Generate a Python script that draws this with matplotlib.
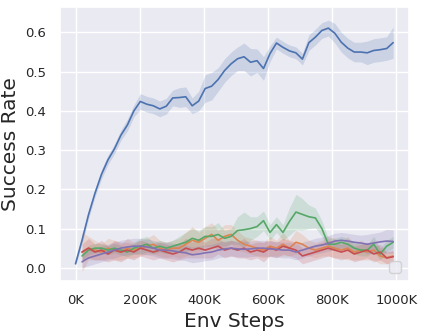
import numpy as np
import matplotlib
matplotlib.use("Agg")
import matplotlib.pyplot as plt
import seaborn as sns

# env steps (K), shared grid
steps = np.linspace(0, 990, 50)
nan = np.nan

blue_mean = [0.01, 0.07, 0.135, 0.19, 0.238, 0.275, 0.303, 0.338, 0.364, 0.40,
             0.424, 0.417, 0.413, 0.405, 0.412, 0.433, 0.434, 0.436, 0.413, 0.425,
             0.457, 0.463, 0.48, 0.503, 0.52, 0.533, 0.538, 0.524, 0.528, 0.508,
             0.546, 0.573, 0.562, 0.553, 0.548, 0.532, 0.574, 0.588, 0.605, 0.611,
             0.598, 0.575, 0.56, 0.55, 0.55, 0.548, 0.554, 0.556, 0.559, 0.574]
blue_err = [0.005, 0.01, 0.01, 0.01, 0.012, 0.012, 0.012, 0.013, 0.015, 0.015,
            0.02, 0.02, 0.02, 0.02, 0.02, 0.02, 0.025, 0.025, 0.02, 0.025,
            0.035, 0.035, 0.03, 0.03, 0.03, 0.03, 0.035, 0.035, 0.03, 0.03,
            0.02, 0.015, 0.015, 0.015, 0.015, 0.015, 0.02, 0.02, 0.02, 0.02,
            0.025, 0.025, 0.025, 0.025, 0.025, 0.03, 0.03, 0.03, 0.03, 0.04]

orange_mean = [nan, 0.04, 0.05, 0.045, 0.04, 0.05, 0.045, 0.04, 0.05, 0.045,
               0.05, 0.055, 0.06, 0.05, 0.045, 0.05, 0.05, 0.06, 0.07, 0.065,
               0.075, 0.085, 0.07, 0.08, 0.085, 0.07, 0.06, 0.055, 0.05, 0.045,
               0.055, 0.05, 0.06, 0.05, 0.065, 0.06, 0.05, 0.045, 0.05, 0.055,
               0.05, 0.045, 0.05, 0.04, 0.045, 0.04, 0.045, 0.03, 0.025, 0.03]
orange_err = [nan, 0.05, 0.03, 0.025, 0.02, 0.025, 0.025, 0.02, 0.025, 0.02,
              0.02, 0.02, 0.025, 0.02, 0.02, 0.02, 0.025, 0.03, 0.035, 0.025,
              0.03, 0.03, 0.025, 0.03, 0.025, 0.025, 0.02, 0.02, 0.02, 0.02,
              0.025, 0.02, 0.03, 0.02, 0.03, 0.025, 0.02, 0.02, 0.02, 0.025,
              0.025, 0.02, 0.03, 0.02, 0.025, 0.02, 0.025, 0.02, 0.015, 0.015]

green_mean = [nan, 0.03, 0.045, 0.05, 0.05, 0.045, 0.05, 0.045, 0.04, 0.05,
              0.055, 0.06, 0.05, 0.055, 0.05, 0.055, 0.06, 0.065, 0.075, 0.07,
              0.08, 0.08, 0.085, 0.075, 0.08, 0.095, 0.097, 0.1, 0.105, 0.12,
              0.09, 0.11, 0.09, 0.118, 0.142, 0.136, 0.13, 0.127, 0.1, 0.06,
              0.06, 0.065, 0.06, 0.05, 0.045, 0.045, 0.06, 0.035, 0.055, 0.065]
green_err = [nan, 0.01, 0.012, 0.012, 0.012, 0.012, 0.012, 0.012, 0.012, 0.015,
             0.02, 0.02, 0.015, 0.015, 0.015, 0.015, 0.02, 0.025, 0.025, 0.025,
             0.025, 0.025, 0.03, 0.02, 0.02, 0.035, 0.045, 0.03, 0.025, 0.025,
             0.02, 0.02, 0.02, 0.035, 0.045, 0.04, 0.03, 0.025, 0.02, 0.015,
             0.015, 0.015, 0.015, 0.015, 0.015, 0.015, 0.02, 0.015, 0.015, 0.015]

red_mean = [nan, 0.04, 0.05, 0.04, 0.045, 0.035, 0.045, 0.04, 0.045, 0.04,
            0.05, 0.045, 0.04, 0.045, 0.04, 0.035, 0.04, 0.05, 0.045, 0.05,
            0.045, 0.05, 0.055, 0.045, 0.05, 0.045, 0.05, 0.04, 0.045, 0.04,
            0.05, 0.045, 0.055, 0.05, 0.045, 0.03, 0.035, 0.04, 0.045, 0.05,
            0.045, 0.04, 0.045, 0.035, 0.04, 0.045, 0.035, 0.04, 0.025, 0.028]
red_err = [nan, 0.02, 0.025, 0.02, 0.025, 0.02, 0.025, 0.025, 0.02, 0.02,
           0.02, 0.02, 0.02, 0.02, 0.02, 0.02, 0.02, 0.025, 0.02, 0.025,
           0.02, 0.025, 0.02, 0.02, 0.02, 0.02, 0.025, 0.02, 0.02, 0.025,
           0.02, 0.02, 0.02, 0.02, 0.02, 0.02, 0.02, 0.02, 0.02, 0.02,
           0.02, 0.02, 0.02, 0.02, 0.02, 0.02, 0.02, 0.02, 0.015, 0.015]

purple_mean = [nan, 0.015, 0.025, 0.03, 0.035, 0.04, 0.045, 0.05, 0.053, 0.055,
               0.055, 0.053, 0.05, 0.045, 0.045, 0.043, 0.04, 0.038, 0.033, 0.035,
               0.038, 0.04, 0.045, 0.048, 0.05, 0.048, 0.047, 0.048, 0.05, 0.05,
               0.048, 0.047, 0.045, 0.045, 0.04, 0.045, 0.05, 0.055, 0.058, 0.062,
               0.068, 0.07, 0.068, 0.065, 0.063, 0.06, 0.063, 0.066, 0.068, 0.067]
purple_err = [nan, 0.015, 0.02, 0.02, 0.02, 0.02, 0.02, 0.02, 0.02, 0.02,
              0.02, 0.02, 0.02, 0.02, 0.02, 0.02, 0.02, 0.02, 0.02, 0.02,
              0.02, 0.02, 0.02, 0.02, 0.02, 0.02, 0.02, 0.02, 0.02, 0.02,
              0.02, 0.02, 0.02, 0.02, 0.02, 0.02, 0.02, 0.02, 0.02, 0.02,
              0.02, 0.02, 0.02, 0.02, 0.02, 0.025, 0.025, 0.025, 0.03, 0.03]

series = [
    (blue_mean, blue_err),
    (orange_mean, orange_err),
    (green_mean, green_err),
    (red_mean, red_err),
    (purple_mean, purple_err),
]

sns.set_theme(style="darkgrid")
colors = sns.color_palette("deep")

fig = plt.figure(figsize=(4.23, 3.31), dpi=100)
ax = fig.add_axes([0.141, 0.152, 0.826, 0.827])

for i, (m, e) in enumerate(series):
    m = np.array(m)
    e = np.array(e)
    ax.plot(steps, m, color=colors[i], lw=1.2)
    ax.fill_between(steps, m - e, m + e, color=colors[i], alpha=0.2, lw=0)

ax.set_xlim(-49.5, 1039.5)
ax.set_ylim(-0.033, 0.665)
ax.set_xticks([0, 200, 400, 600, 800, 1000])
ax.set_xticklabels(["0K", "200K", "400K", "600K", "800K", "1000K"])
ax.set_yticks([0.0, 0.1, 0.2, 0.3, 0.4, 0.5, 0.6])
ax.tick_params(labelsize=9.5)
ax.set_xlabel("Env Steps", fontsize=14.5)
ax.set_ylabel("Success Rate", fontsize=14.5)
ax.legend(handles=[], loc="lower right")

fig.savefig("out.png", dpi=100)
